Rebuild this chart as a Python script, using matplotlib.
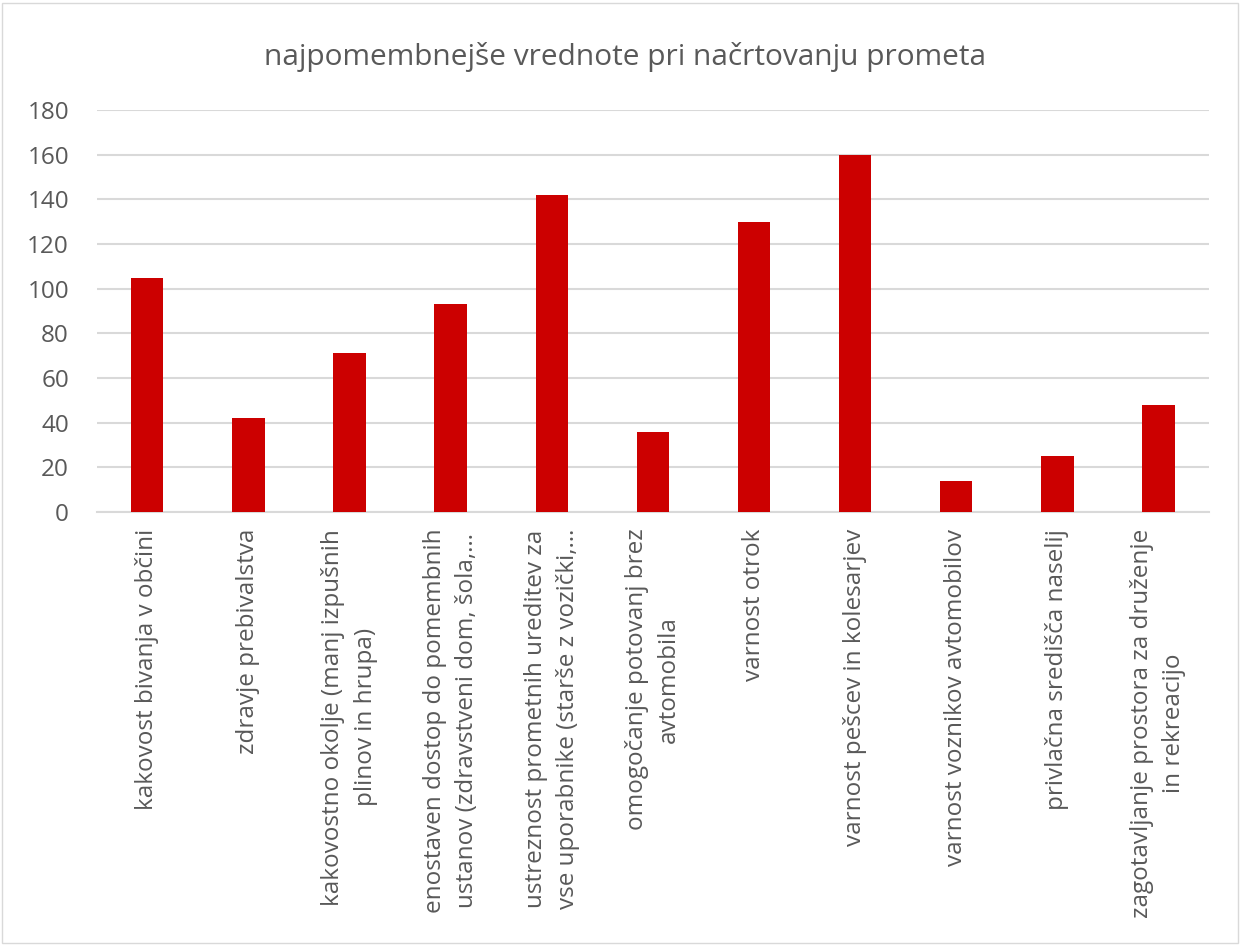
import matplotlib.pyplot as plt
from matplotlib.patches import Rectangle

plt.rcParams['font.family'] = ['Open Sans', 'DejaVu Sans']

# data
categories = [
    "kakovost bivanja v občini",
    "zdravje prebivalstva",
    "kakovostno okolje (manj izpušnih\nplinov in hrupa)",
    "enostaven dostop do pomembnih\nustanov (zdravstveni dom, šola,…",
    "ustreznost prometnih ureditev za\nvse uporabnike (starše z vozički,…",
    "omogočanje potovanj brez\navtomobila",
    "varnost otrok",
    "varnost pešcev in kolesarjev",
    "varnost voznikov avtomobilov",
    "privlačna središča naselij",
    "zagotavljanje prostora za druženje\nin rekreacijo",
]
values = [105, 42, 71, 93, 142, 36, 130, 160, 14, 25, 48]
yticks = [0, 20, 40, 60, 80, 100, 120, 140, 160, 180]

text_color = '#595959'
grid_color = '#d9d9d9'
bar_color = '#cc0000'

fig = plt.figure(figsize=(12.4, 9.46), dpi=100)
ax = fig.add_axes([0.078, 0.4588, 0.897, 0.4249])

x = list(range(len(categories)))
ax.bar(x, values, width=0.32, color=bar_color, zorder=3)

ax.set_xlim(-0.5, len(categories) - 0.5)
ax.set_ylim(0, 180)
ax.set_yticks(yticks)
ax.set_xticks(x)
ax.set_xticklabels(categories, rotation=90, multialignment='center',
                   linespacing=1.45)

ax.yaxis.grid(True, color=grid_color, linewidth=1.5, zorder=0)
for s in ['top', 'right', 'left']:
    ax.spines[s].set_visible(False)
ax.spines['bottom'].set_color(grid_color)
ax.spines['bottom'].set_linewidth(1.5)
ax.tick_params(axis='both', length=0, colors=text_color, labelsize=17.5)
ax.tick_params(axis='y', pad=20)
ax.tick_params(axis='x', pad=12)

fig.text(0.504, 0.94, "najpomembnejše vrednote pri načrtovanju prometa",
         ha='center', va='center', fontsize=21.5, color=text_color)

# light frame round the chart area
fig.patches.append(Rectangle((0.002, 0.003), 0.996, 0.994, transform=fig.transFigure,
                             fill=False, edgecolor='#d9d9d9', linewidth=1))

fig.savefig('out.png', dpi=100, facecolor='white')
